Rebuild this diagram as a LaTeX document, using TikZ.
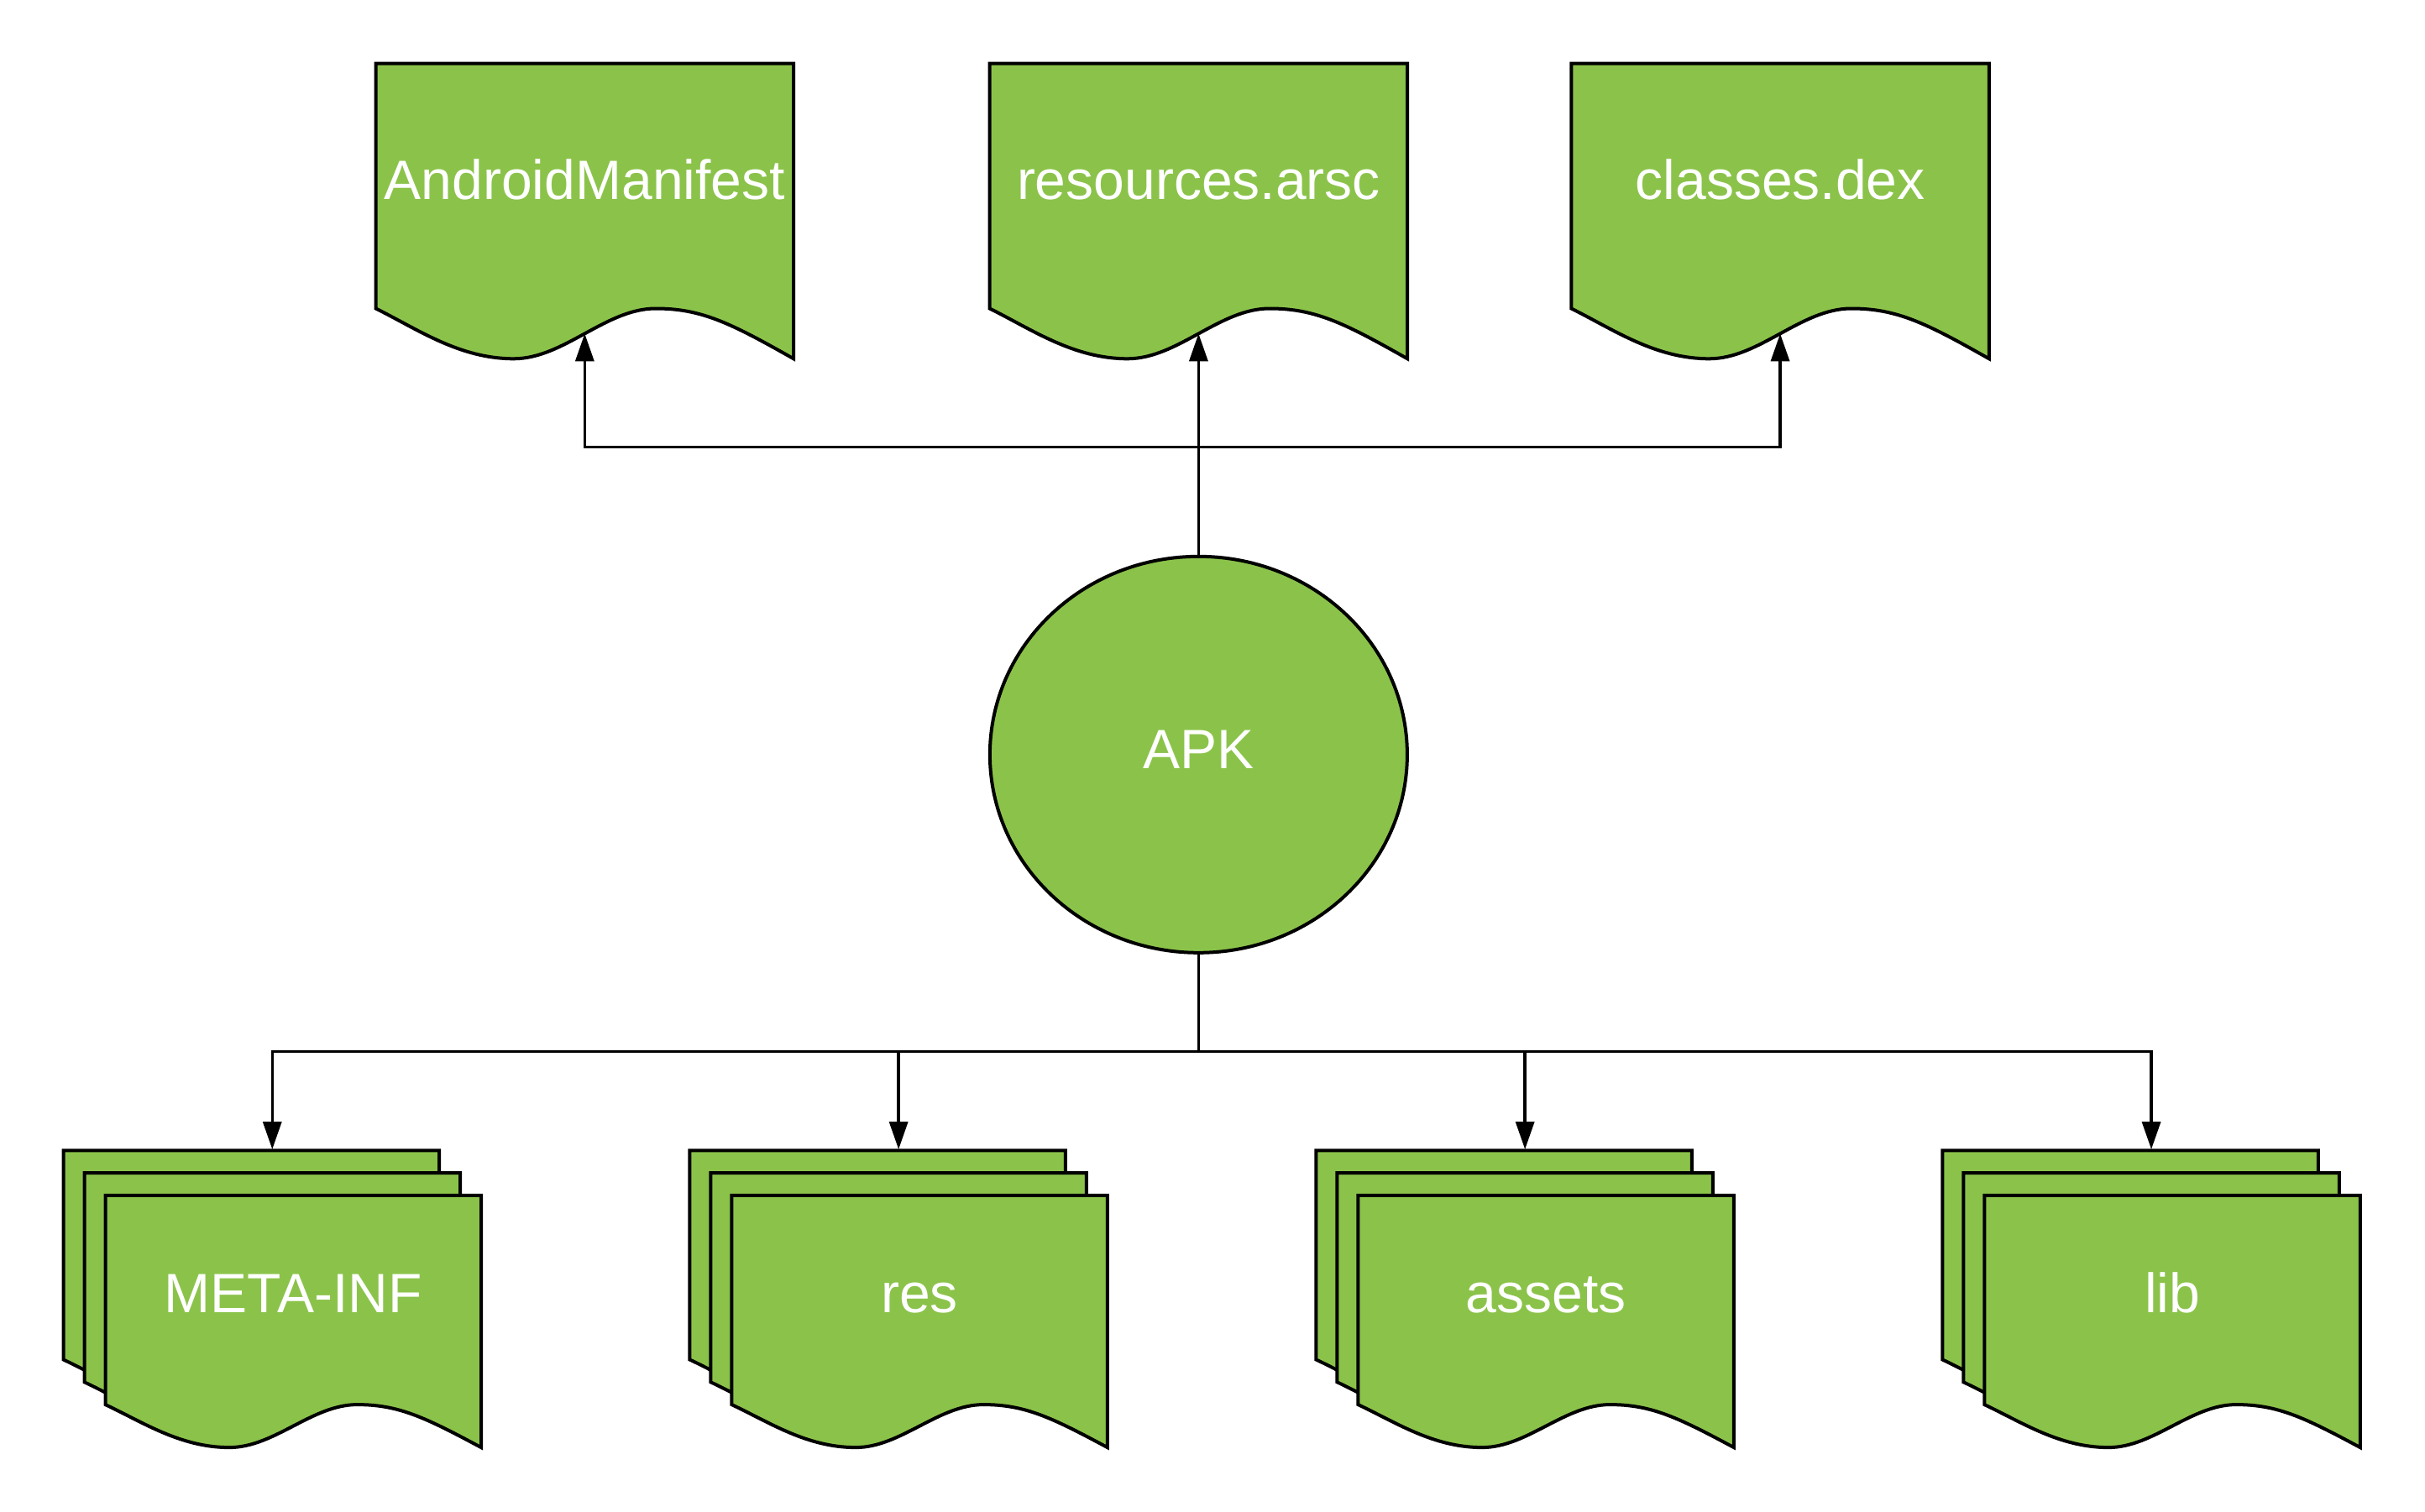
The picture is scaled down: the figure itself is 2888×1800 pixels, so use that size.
\documentclass[tikz,border=0pt]{standalone}
\usepackage{fontspec}
\setmainfont{Liberation Sans}
\usetikzlibrary{arrows.meta,shapes.geometric}
\definecolor{docgreen}{HTML}{8BC34A}
\newcommand\docshape[4]{%
  \pgfmathsetmacro\dsx{#1}\pgfmathsetmacro\dsy{#2}%
  \pgfmathsetmacro\dsw{#3}\pgfmathsetmacro\dsh{#4}%
  \path[docfill] (\dsx,\dsy) -- (\dsx+\dsw,\dsy) -- (\dsx+\dsw,\dsy+\dsh)
    .. controls (\dsx+0.85*\dsw,\dsy+0.88*\dsh) and (\dsx+0.78*\dsw,\dsy+0.83*\dsh) .. (\dsx+0.67*\dsw,\dsy+0.83*\dsh)
    .. controls (\dsx+0.55*\dsw,\dsy+0.83*\dsh) and (\dsx+0.45*\dsw,\dsy+\dsh) .. (\dsx+0.33*\dsw,\dsy+\dsh)
    .. controls (\dsx+0.2*\dsw,\dsy+\dsh) and (\dsx+0.1*\dsw,\dsy+0.9*\dsh) .. (\dsx,\dsy+0.83*\dsh) -- cycle;}
\begin{document}
\begin{tikzpicture}[x=1pt,y=-1pt,
  docfill/.style={fill=docgreen,draw=black,line width=4pt,line join=miter},
  lbl/.style={text=white,font=\fontsize{66}{79}\selectfont,inner sep=0pt,anchor=base},
  conn/.style={line width=3.5pt,-{Triangle[length=33pt,width=22pt]}},
  plainline/.style={line width=3.5pt}]
\useasboundingbox (0,0) rectangle (2888,1800);
% top documents
\docshape{447.6}{75.5}{497.5}{351.8}
\docshape{1178.65}{75.5}{497.5}{351.8}
\docshape{1871.3}{75.5}{497.5}{351.8}
\node[lbl] (am) at (696.35,237) {AndroidManifest};
\node[lbl] (ra) at (1427.4,237) {resources.arsc};
\node[lbl] (cd) at (2120.05,237) {classes.dex};
\coordinate (amw) at (696.35,397.4);
\coordinate (raw) at (1427.4,397.4);
\coordinate (cdw) at (2120.05,397.4);
% APK
\node[ellipse,fill=docgreen,draw=black,line width=4pt,minimum width=497pt,minimum height=472pt,inner sep=0pt] (apk) at (1427.4,898.8) {};
\node[lbl] (apkt) at (1427.4,915.5) {APK};
% bottom stacks
\foreach \bx in {75.5,821.4,1567.4,2313.3}{
  \docshape{\bx}{1370.3}{447.5}{300.2}
  \docshape{\bx+25}{1397.1}{447.5}{300.2}
  \docshape{\bx+50}{1423.9}{447.5}{300.2}
}
\node[lbl] (mi) at (75.5+50+223.75,1563.5) {META-INF};
\node[lbl] (rs) at (821.4+50+223.75,1563.5) {res};
\node[lbl] (as) at (1567.4+50+223.75,1563.5) {assets};
\node[lbl] (lb) at (2313.3+50+223.75,1563.5) {lib};
\coordinate (g1t) at (324.25,1369);
\coordinate (g2t) at (1070.15,1369);
\coordinate (g3t) at (1816.15,1369);
\coordinate (g4t) at (2562.05,1369);
% connectors
\coordinate (tj) at (1427.4,532.3);
\coordinate (bj) at (1427.4,1252.4);
\draw[conn] (apk.north) -- (raw);
\draw[conn] (tj) -| (amw);
\draw[conn] (tj) -| (cdw);
\draw[plainline] (apk.south) -- (bj);
\draw[conn] (bj) -| (g1t);
\draw[conn] (bj) -| (g2t);
\draw[conn] (bj) -| (g3t);
\draw[conn] (bj) -| (g4t);
\end{tikzpicture}
\end{document}
